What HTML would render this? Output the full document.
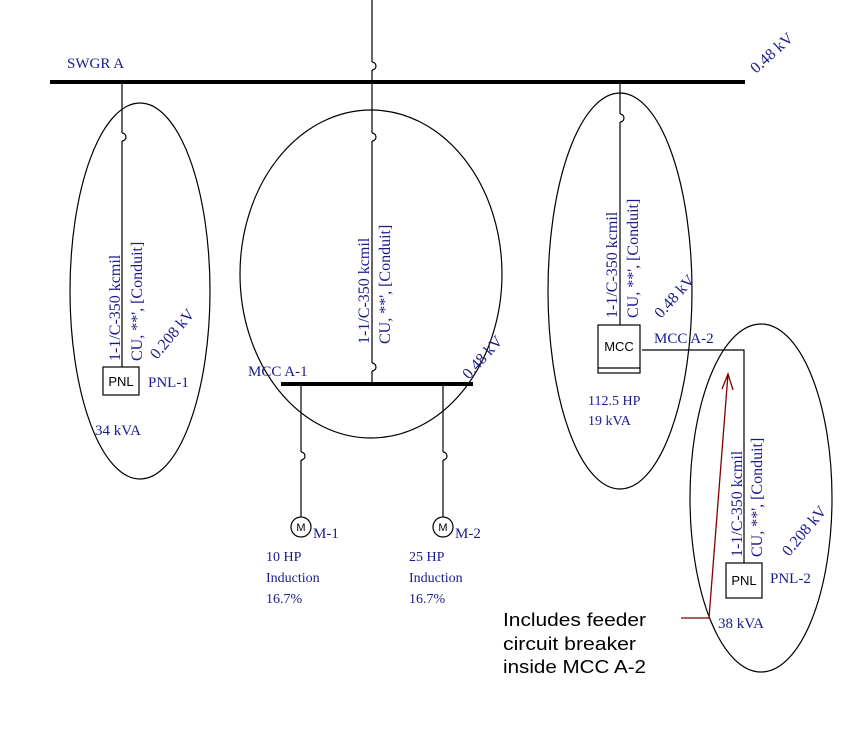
<!DOCTYPE html>
<html><head><style>
body{margin:0;background:#fff;}
svg text{font-family:"Liberation Serif",serif;fill:#1a1a8c;font-size:14px;}
svg text.r{font-size:16px;}
svg text.s{font-family:"Liberation Sans",sans-serif;fill:#000;}
</style></head><body>
<svg width="850" height="729" viewBox="0 0 850 729" xmlns="http://www.w3.org/2000/svg">
<g fill="none" stroke="#000" stroke-width="1.2">
<ellipse cx="140" cy="291" rx="70" ry="188"/>
<ellipse cx="371" cy="274" rx="131" ry="164"/>
<ellipse cx="620" cy="291" rx="72" ry="198"/>
<ellipse cx="761" cy="498" rx="71" ry="174"/>
<path d="M372 0V62M372 70V133M372 141V363M372 371V384"/>
<path d="M372 62a4 4 0 0 1 0 8M372 133a4 4 0 0 1 0 8M372 363a4 4 0 0 1 0 8"/>
<path d="M122 82V133M122 141V367"/>
<path d="M122 133a4 4 0 0 1 0 8"/>
<rect x="103" y="367" width="36" height="28"/>
<path d="M301 384V452M301 460V517M443 384V452M443 460V517"/>
<path d="M301 452a4 4 0 0 1 0 8M443 452a4 4 0 0 1 0 8"/>
<circle cx="301" cy="527" r="10"/>
<circle cx="443" cy="527" r="10"/>
<path d="M620 82V114M620 122V325"/>
<path d="M620 114a4 4 0 0 1 0 8"/>
<rect x="598" y="325" width="42" height="48"/>
<path d="M598 368H640"/>
<path d="M642 350H744V563"/>
<rect x="726" y="563" width="36" height="35"/>
</g>
<path d="M50 82H745" stroke="#000" stroke-width="4"/>
<path d="M281 384H473" stroke="#000" stroke-width="4"/>
<g stroke="#800000" stroke-width="1.3" fill="none">
<path d="M681 618H709L728 374"/>
<path d="M722 389L728 374L733 390"/>
</g>
<text class="s" x="301" y="531" style="font-size:11px" text-anchor="middle">M</text>
<text class="s" x="443" y="531" style="font-size:11px" text-anchor="middle">M</text>
<text class="s" x="121" y="386" style="font-size:13px" text-anchor="middle">PNL</text>
<text class="s" x="744" y="585" style="font-size:13px" text-anchor="middle">PNL</text>
<text class="s" x="619" y="351" style="font-size:13px" text-anchor="middle">MCC</text>
<text x="67" y="68" style="font-size:15px">SWGR A</text>
<text class="r" transform="translate(756,74) rotate(-42)">0.48 kV</text>
<text x="148" y="387" style="font-size:15px">PNL-1</text>
<text x="95" y="435" style="font-size:15px">34 kVA</text>
<text class="r" transform="translate(120,361) rotate(-90)">1-1/C-350 kcmil</text>
<text class="r" transform="translate(142,361) rotate(-90)">CU, **', [Conduit]</text>
<text class="r" transform="translate(157,360) rotate(-50)">0.208 kV</text>
<text class="r" transform="translate(369,344) rotate(-90)">1-1/C-350 kcmil</text>
<text class="r" transform="translate(390,344) rotate(-90)">CU, **', [Conduit]</text>
<text class="r" transform="translate(469,380) rotate(-48)">0.48 kV</text>
<text x="248" y="376" style="font-size:15px">MCC A-1</text>
<text x="313" y="538" style="font-size:15px">M-1</text>
<text x="455" y="538" style="font-size:15px">M-2</text>
<text x="266" y="561">10 HP</text>
<text x="266" y="582">Induction</text>
<text x="266" y="603">16.7%</text>
<text x="409" y="561">25 HP</text>
<text x="409" y="582">Induction</text>
<text x="409" y="603">16.7%</text>
<text class="r" transform="translate(617,318) rotate(-90)">1-1/C-350 kcmil</text>
<text class="r" transform="translate(638,318) rotate(-90)">CU, **', [Conduit]</text>
<text class="r" transform="translate(661,319) rotate(-48)">0.48 kV</text>
<text x="654" y="343" style="font-size:15px">MCC A-2</text>
<text x="588" y="405">112.5 HP</text>
<text x="588" y="425">19 kVA</text>
<text class="r" transform="translate(742,557) rotate(-90)">1-1/C-350 kcmil</text>
<text class="r" transform="translate(762,557) rotate(-90)">CU, **', [Conduit]</text>
<text class="r" transform="translate(789,557) rotate(-50)">0.208 kV</text>
<text x="770" y="583" style="font-size:15px">PNL-2</text>
<text x="718" y="628" style="font-size:15px">38 kVA</text>
<text class="s" x="503" y="626" style="font-size:18px" textLength="143" lengthAdjust="spacingAndGlyphs">Includes feeder</text>
<text class="s" x="503" y="650" style="font-size:18px" textLength="133" lengthAdjust="spacingAndGlyphs">circuit breaker</text>
<text class="s" x="503" y="673" style="font-size:18px" textLength="143" lengthAdjust="spacingAndGlyphs">inside MCC A-2</text>
</svg>
</body></html>
